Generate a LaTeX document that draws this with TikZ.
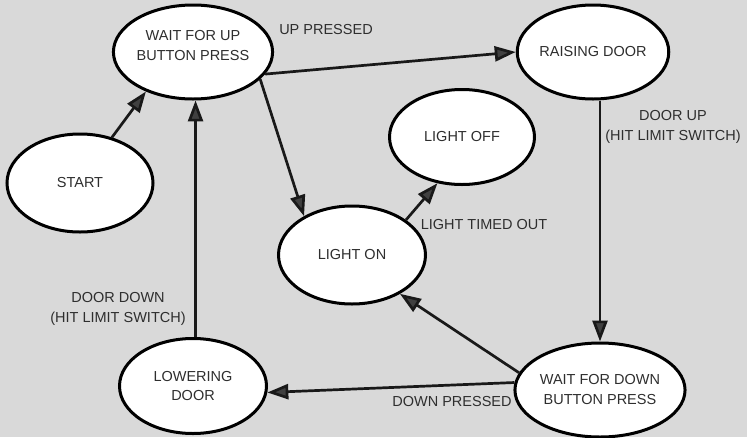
\documentclass[tikz,border=0pt]{standalone}
\usepackage{fontspec}
\setmainfont{Liberation Sans}
\usetikzlibrary{shapes.geometric,arrows.meta}
\definecolor{bg}{gray}{0.85}
\definecolor{ink}{gray}{0.1}
\definecolor{txt}{gray}{0.18}
\begin{document}
\begin{tikzpicture}[x=1pt,y=-1pt,
  state/.style={ellipse,draw=black,line width=3pt,fill=white,inner sep=0pt,
    align=center,text=txt,font=\fontsize{14.5}{20}\selectfont},
  lbl/.style={align=center,text=txt,font=\fontsize{14.5}{20}\selectfont,inner sep=0pt},
  conn/.style={draw=ink,line width=2.7pt,-{Triangle[length=21pt,width=15pt,fill=black!75]}}]
\fill[bg] (0,0) rectangle (747,437);
\useasboundingbox (0,0) rectangle (747,437);
\node[state,minimum width=146pt,minimum height=94pt] (waitup) at (193,52) {WAIT FOR UP\\BUTTON PRESS\\[-6pt]};
\node[state,minimum width=146pt,minimum height=98pt] (start) at (80,183) {START};
\node[state,minimum width=143pt,minimum height=94pt] (raising) at (593,52) {RAISING DOOR};
\node[state,minimum width=145pt,minimum height=95pt] (lightoff) at (462,137) {LIGHT OFF};
\node[state,minimum width=147pt,minimum height=98pt] (lighton) at (352,255) {LIGHT ON};
\node[state,minimum width=147pt,minimum height=95pt] (lowering) at (193,386) {LOWERING\\DOOR};
\node[state,minimum width=145pt,minimum height=94pt] (waitdown) at (600,390) {WAIT FOR DOWN\\BUTTON PRESS};

\draw[conn] (start.55) -- (waitup.220);
\draw[conn] (lowering.87) -- (waitup.273);
\draw[conn] (waitup.-17) -- (raising.180);
\draw[conn] (waitup.-22) -- (lighton.141);
\draw[conn] (waitdown.north |- raising.south) -- (waitdown.north);
\draw[conn] (waitdown.168) -- (lighton.-39);
\draw[conn] (waitdown.175) -- (lowering.-5);
\draw[conn] (lighton.33) -- (lightoff.242);

\node[lbl] (lup) at (326,30) {UP PRESSED};
\node[lbl] (ldoorup) at (673,127) {DOOR UP\\(HIT LIMIT SWITCH)};
\node[lbl] (ltimed) at (484,225) {LIGHT TIMED OUT};
\node[lbl] (ldoordown) at (118,309) {DOOR DOWN\\(HIT LIMIT SWITCH)};
\node[lbl] (ldown) at (452,402) {DOWN PRESSED};
\end{tikzpicture}
\end{document}
